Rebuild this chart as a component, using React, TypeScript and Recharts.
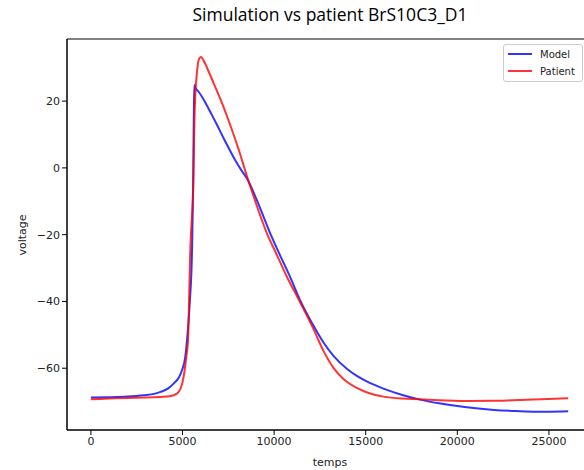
import { LineChart, Line, XAxis, YAxis, ReferenceArea } from "recharts";

// Model (simulation) trace
const modelTime = [
  0, 1000, 2000, 2880, 3500, 3790, 4200, 4515, 4800, 4970, 5150, 5245, 5400, 5520, 5580, 5615, 5643,
  5700, 5880, 6243, 6608, 6880, 7300, 7879, 8200, 8517, 9062, 9787, 10300, 10878, 11423, 12150, 12694,
  13239, 14000, 14514, 15000, 15966, 17000, 17966, 19000, 20513, 22000, 23000, 24143, 25000, 26050,
];
const modelVoltage = [
  -68.8, -68.7, -68.5, -68.1, -67.6, -67.1, -66.1, -64.6, -62.8, -60.6, -56.6, -51.6, -40, -24.6, -5, 15, 24.8,
  24.0, 22.8, 19.6, 15.8, 12.9, 8.3, 2.3, -0.6, -3.2, -9.7, -19.6, -25.9, -32.7, -39.7, -47.3, -52.3,
  -56.3, -60.3, -62.3, -63.8, -66.1, -68.0, -69.4, -70.5, -71.7, -72.5, -72.8, -73.0, -73.0, -72.9,
];

// Patient recording
const patientTime = [
  0, 1000, 2000, 3000, 3790, 4300, 4515, 4788, 4900, 5060, 5207, 5300, 5425, 5600, 5643, 5698, 5790,
  5880, 6008, 6150, 6336, 6696, 7242, 7514, 8060, 8517, 8970, 9607, 10100, 10697, 11423, 12150,
  12694, 13239, 13800, 14514, 15200, 15966, 17000, 17966, 19000, 20513, 22000, 23000, 24143, 25000, 26050,
];
const patientVoltage = [
  -69.3, -69.1, -68.9, -68.8, -68.6, -68.4, -68.1, -67.1, -66.0, -62.6, -56.6, -51.6, -24.6, -2, 12.8, 21.8, 28.7,
  32.3, 33.2, 32.2, 30.0, 25.4, 18.2, 14.2, 5.6, -2.5, -10.0, -19.6, -25.5, -32.6, -40.3, -48.3,
  -54.8, -59.9, -63.3, -65.9, -67.5, -68.5, -69.1, -69.3, -69.6, -69.8, -69.75, -69.6, -69.4, -69.2, -69.0,
];

const xTicks = [0, 5000, 10000, 15000, 20000, 25000];
const yTicks = [-60, -40, -20, 0, 20];

const xDomain = [-1305, 27405];
const yDomain = [-78.5, 38.6];

const modelData = modelTime.map((t, i) => ({ t, v: modelVoltage[i] }));
const patientData = patientTime.map((t, i) => ({ t, v: patientVoltage[i] }));

const tickFont = { fontFamily: "DejaVu Sans", fontSize: 11, fill: "#222" };
const fmt = (v: number) => (v < 0 ? `\u2212${Math.abs(v)}` : `${v}`);

export default function App() {
  return (
    <div style={{ position: "absolute", left: 0, top: 0, width: 584, height: 470, overflow: "hidden", background: "#fff" }}>
      <div
        style={{
          position: "absolute",
          left: 67,
          width: 526,
          top: 2,
          textAlign: "center",
          fontFamily: "Open Sans",
          fontSize: 17.5,
          color: "#000",
        }}
      >
        Simulation vs patient BrS10C3_D1
      </div>
      <div
        style={{
          position: "absolute",
          left: 22,
          top: 235,
          transform: "translate(-50%, -50%) rotate(-90deg)",
          fontFamily: "DejaVu Sans",
          fontSize: 11,
          color: "#222",
        }}
      >
        voltage
      </div>
      <LineChart width={610} height={470} margin={{ top: 39, right: 17, left: 0, bottom: 0 }}>
        <XAxis
          dataKey="t"
          type="number"
          domain={xDomain}
          ticks={xTicks}
          height={40}
          tick={tickFont}
          tickSize={5}
          stroke="#000"
          tickFormatter={fmt}
          allowDuplicatedCategory={false}
          label={{ value: "temps", position: "insideBottom", offset: 4, style: { ...tickFont } }}
        />
        <YAxis
          dataKey="v"
          type="number"
          domain={yDomain}
          ticks={yTicks}
          width={67}
          tick={tickFont}
          tickSize={5}
          stroke="#000"
          tickFormatter={fmt}
        />
        <ReferenceArea x1={xDomain[0]} x2={xDomain[1]} y1={yDomain[0]} y2={yDomain[1]} fill="none" stroke="#000" strokeWidth={1} />
        <Line data={modelData} dataKey="v" type="monotone" stroke="#0000ff" strokeOpacity={0.8} strokeWidth={2} dot={false} isAnimationActive={false} />
        <Line data={patientData} dataKey="v" type="monotone" stroke="#ff0000" strokeOpacity={0.8} strokeWidth={2} dot={false} isAnimationActive={false} />
      </LineChart>
      <div
        style={{
          position: "absolute",
          left: 503,
          top: 44,
          width: 80,
          height: 38,
          border: "1px solid #ccc",
          borderRadius: 3,
          background: "rgba(255,255,255,0.8)",
          fontFamily: "DejaVu Sans",
          fontSize: 10,
          color: "#222",
          boxSizing: "border-box",
        }}
      >
        {[
          { name: "Model", color: "rgba(0,0,255,0.8)" },
          { name: "Patient", color: "rgba(255,0,0,0.8)" },
        ].map((item, i) => (
          <div key={item.name} style={{ position: "absolute", left: 4, top: 2 + i * 17, height: 14, display: "flex", alignItems: "center" }}>
            <span style={{ display: "inline-block", width: 24, height: 2, background: item.color, marginRight: 8 }} />
            <span>{item.name}</span>
          </div>
        ))}
      </div>
    </div>
  );
}
